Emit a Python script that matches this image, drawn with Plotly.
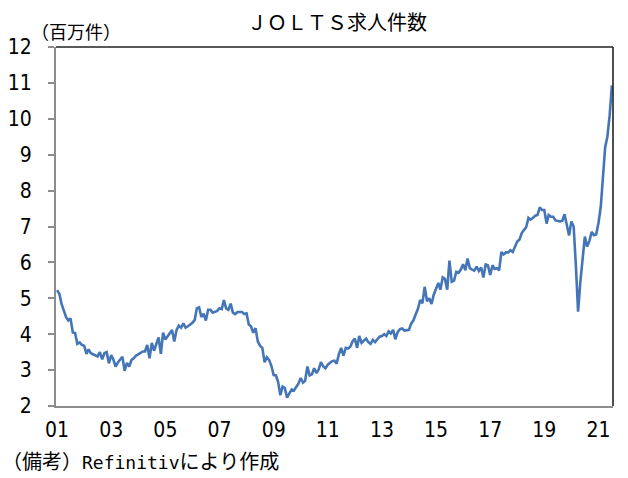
import pandas as pd
import plotly.graph_objects as go

# JOLTS job openings (millions), monthly, Jan 2001 - Jul 2021
start_month = "2001-01-01"
openings = [
    5.23, 5.12, 4.85, 4.65, 4.48, 4.38, 4.44, 4.05, 4.03, 3.73, 3.77, 3.70,   # 2001
    3.68, 3.45, 3.58, 3.47, 3.44, 3.42, 3.38, 3.50, 3.30, 3.47, 3.50, 3.19,   # 2002
    3.42, 3.28, 3.10, 3.21, 3.30, 3.37, 2.98, 3.20, 3.10, 3.28, 3.33, 3.40,   # 2003
    3.44, 3.48, 3.52, 3.52, 3.70, 3.33, 3.76, 3.54, 3.72, 3.91, 3.45, 4.04,   # 2004
    3.85, 3.95, 4.05, 4.12, 3.80, 4.12, 4.24, 4.18, 4.30, 4.18, 4.22, 4.26,   # 2005
    4.32, 4.40, 4.72, 4.75, 4.48, 4.57, 4.38, 4.68, 4.68, 4.60, 4.62, 4.65,   # 2006
    4.72, 4.70, 4.95, 4.72, 4.68, 4.85, 4.60, 4.56, 4.62, 4.62, 4.62, 4.56,   # 2007
    4.58, 4.27, 4.22, 4.04, 4.17, 3.80, 3.68, 3.62, 3.22, 3.36, 3.28, 3.12,   # 2008
    2.86, 2.85, 2.68, 2.30, 2.54, 2.50, 2.23, 2.35, 2.46, 2.43, 2.54, 2.62,   # 2009
    2.78, 2.65, 2.70, 3.10, 2.85, 2.88, 3.05, 2.92, 3.02, 3.22, 3.10, 3.05,   # 2010
    3.15, 3.20, 3.25, 3.26, 3.18, 3.45, 3.62, 3.40, 3.62, 3.60, 3.65, 3.80,   # 2011
    3.88, 3.62, 3.95, 3.76, 3.82, 3.88, 3.78, 3.73, 3.84, 3.78, 3.86, 3.93,   # 2012
    3.95, 4.00, 3.95, 4.08, 4.02, 4.12, 3.86, 4.06, 4.14, 4.16, 4.10, 4.10,   # 2013
    4.12, 4.30, 4.38, 4.55, 4.70, 4.95, 4.86, 5.32, 4.92, 5.00, 4.84, 5.10,   # 2014
    5.28, 5.43, 5.24, 5.58, 5.54, 5.24, 6.05, 5.46, 5.49, 5.74, 5.71, 5.80,   # 2015
    5.95, 5.78, 6.11, 5.84, 5.80, 5.77, 5.88, 5.76, 5.86, 5.58, 5.94, 5.92,   # 2016
    5.65, 5.92, 5.82, 5.84, 5.78, 6.29, 6.22, 6.28, 6.28, 6.34, 6.29, 6.42,   # 2017
    6.58, 6.64, 6.81, 6.90, 6.98, 7.24, 7.19, 7.24, 7.30, 7.32, 7.53, 7.46,   # 2018
    7.46, 7.08, 7.32, 7.27, 7.27, 7.17, 7.15, 7.14, 7.16, 7.34, 7.04, 6.75,   # 2019
    7.14, 7.00, 5.95, 4.63, 5.45, 6.10, 6.72, 6.44, 6.60, 6.85, 6.76, 6.78,   # 2020
    7.10, 7.55, 8.30, 9.20, 9.50, 10.10, 10.93,                               # 2021
]
months = pd.date_range(start_month, periods=len(openings), freq="MS")

y_ticks = list(range(2, 13))
x_tick_years = list(range(2001, 2022, 2))
x_tick_labels = [f"{y % 100:02d}" for y in x_tick_years]

title_text = "ＪＯＬＴＳ求人件数"
unit_text = "（百万件）"
source_parts = ["（備考）", "Refinitiv", "により作成"]

num_font = "Liberation Sans Narrow, DejaVu Sans Condensed, Noto Sans CJK JP, sans-serif"
jp_font = "Noto Sans CJK JP, sans-serif"
mono_font = "DejaVu Sans Mono, Liberation Mono, monospace"

source_text = (source_parts[0]
               + f"<span style='font-family:{mono_font};font-size:18px'>{source_parts[1]}</span>"
               + source_parts[2])

W, H = 628, 478
ML, MR, MT, MB = 56, 15, 47, 72

fig = go.Figure()
fig.add_trace(go.Scatter(
    x=months, y=openings, mode="lines",
    line=dict(color="#4475b6", width=2.6),
    hoverinfo="skip", showlegend=False,
))

pw, ph = W - ML - MR, H - MT - MB
def px(xp):
    return (xp - ML) / pw
def py(yp):
    return (H - MB - yp) / ph

fig.update_layout(
    width=W, height=H,
    margin=dict(l=ML, r=MR, t=MT, b=MB, autoexpand=False),
    paper_bgcolor="white", plot_bgcolor="white",
    showlegend=False,
    xaxis=dict(
        range=[pd.Timestamp("2000-12-17"), pd.Timestamp("2021-07-16")],
        tickvals=[pd.Timestamp(f"{y}-01-01") for y in x_tick_years],
        ticktext=x_tick_labels,
        showgrid=False, zeroline=False, automargin=False,
        showline=True, linecolor="#8c8c8c", linewidth=2,
        ticks="", ticklabelstandoff=4,
        tickfont=dict(family=num_font, size=21, color="black"),
    ),
    yaxis=dict(
        range=[2, 12],
        tickvals=y_ticks,
        showgrid=False, zeroline=False, automargin=False,
        showline=True, linecolor="#8c8c8c", linewidth=2,
        ticks="outside", ticklen=6, tickwidth=2, tickcolor="#8c8c8c",
        ticklabelstandoff=12,
        tickfont=dict(family=num_font, size=21, color="black"),
    ),
    shapes=[
        dict(type="line", xref="paper", yref="paper", x0=0, x1=1, y0=1, y1=1,
             line=dict(color="#222222", width=1.6)),
        dict(type="line", xref="paper", yref="paper", x0=1, x1=1, y0=0, y1=1,
             line=dict(color="#222222", width=1.6)),
    ],
    annotations=[
        dict(text=title_text, xref="paper", yref="paper", showarrow=False,
             x=px(337), y=py(22), xanchor="center", yanchor="middle",
             font=dict(family=jp_font, size=20, color="black")),
        dict(text=unit_text, xref="paper", yref="paper", showarrow=False,
             x=px(29), y=py(31), xanchor="left", yanchor="middle",
             font=dict(family=jp_font, size=18, color="black")),
        dict(text=source_text, xref="paper", yref="paper", showarrow=False,
             x=px(0), y=py(461), xanchor="left", yanchor="middle",
             font=dict(family=jp_font, size=20, color="black")),
    ],
)

fig.write_html("out.html")
